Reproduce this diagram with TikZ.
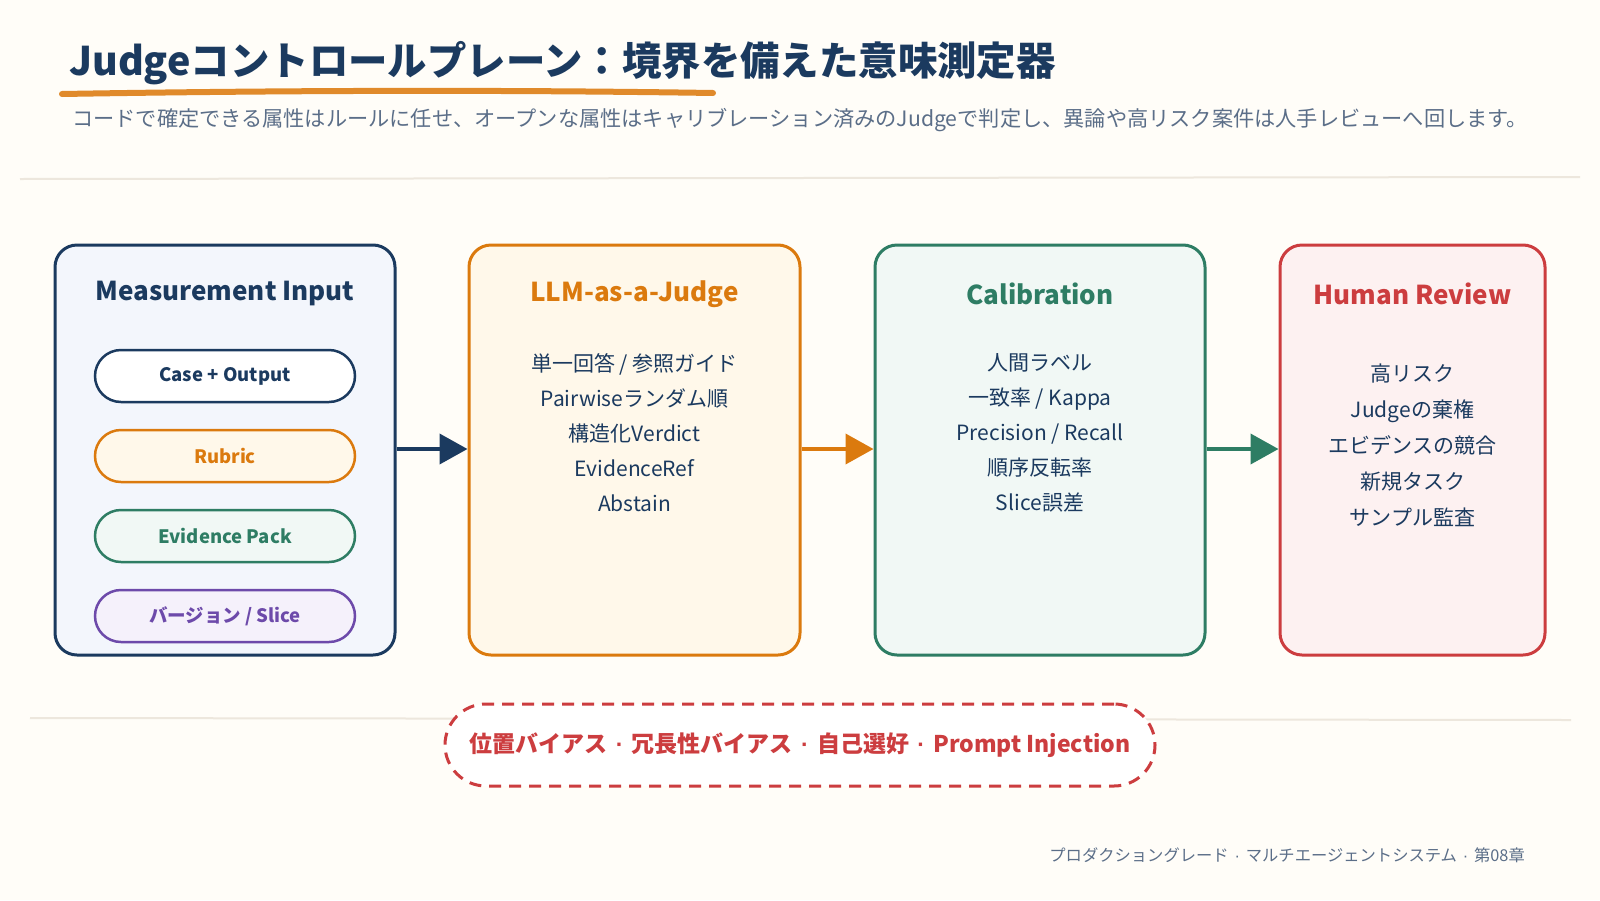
\documentclass[tikz,border=0pt]{standalone}
\usepackage{fontspec}
\setmainfont{Noto Sans CJK JP}
\newfontfamily\dotfont{Liberation Sans}
\usetikzlibrary{arrows.meta, positioning, calc}

\definecolor{bgcream}{HTML}{FFFDF8}
\definecolor{rulegray}{HTML}{EDE7DD}
\definecolor{navy}{HTML}{1B3A5F}
\definecolor{subgray}{HTML}{5B6E88}
\definecolor{judgeorange}{HTML}{DB7A0E}
\definecolor{underorange}{HTML}{E08A2B}
\definecolor{calgreen}{HTML}{2E7D64}
\definecolor{revred}{HTML}{CC3D3F}
\definecolor{verpurple}{HTML}{6D4AAA}
\definecolor{navyfill}{HTML}{F3F6FC}
\definecolor{orangefill}{HTML}{FFF8EA}
\definecolor{greenfill}{HTML}{F1F8F5}
\definecolor{redfill}{HTML}{FDF1F1}
\definecolor{purplefill}{HTML}{F5F1FB}

\newcommand{\sepdot}{\hspace{0.36em}{\dotfont ·}\hspace{0.36em}}

\begin{document}
\begin{tikzpicture}[
    x=1pt, y=-1pt,
    panel/.style={rounded corners=22pt, line width=3pt, minimum width=#1, minimum height=410pt, inner sep=0pt},
    ptitle/.style={font=\bfseries\fontsize{26}{30}\selectfont},
    pill/.style={rounded corners=26pt, line width=2.5pt, minimum width=260pt, minimum height=52pt,
        font=\bfseries\fontsize{18.5}{22}\selectfont},
    items/.style={align=center, text=navy, font=\fontsize{21}{#1}\selectfont},
    flow/.style={line width=4pt, -{Triangle[length=28pt, width=30pt]}}
]
    % Canvas
    \fill[bgcream] (0,0) rectangle (1600,900);
    \useasboundingbox (0,0) rectangle (1600,900);

    % Heading
    \node[anchor=west, text=navy, font=\bfseries\fontsize{39.4}{46}\selectfont, inner sep=0pt] (title) at (69,63)
        {Judgeコントロールプレーン：境界を備えた意味測定器};
    \draw[underorange, line width=6pt, line cap=round] (62,94) .. controls (300,90) and (520,90) .. (713,93);
    \node[anchor=west, text=subgray, font=\fontsize{21.2}{25}\selectfont, inner sep=0pt] (subtitle) at (72,120)
        {コードで確定できる属性はルールに任せ、オープンな属性はキャリブレーション済みのJudgeで判定し、異論や高リスク案件は人手レビューへ回します。};
    \draw[rulegray, line width=2pt] (20,179) -- (1580,177);
    \draw[rulegray, line width=2pt] (30,718) -- (1571,720);

    % Panels
    \node[panel=340pt, draw=navy, fill=navyfill] (input) at (225,450) {};
    \node[panel=331pt, draw=judgeorange, fill=orangefill] (judge) at (634.5,450) {};
    \node[panel=330pt, draw=calgreen, fill=greenfill] (calib) at (1040,450) {};
    \node[panel=265pt, draw=revred, fill=redfill] (review) at (1412.5,450) {};

    % Panel titles
    \node[ptitle, text=navy] (inputT) at (225,294) {Measurement Input};
    \node[ptitle, text=judgeorange] (judgeT) at (634.5,294) {LLM-as-a-Judge};
    \node[ptitle, text=calgreen] (calibT) at (1040,294) {Calibration};
    \node[ptitle, text=revred] (reviewT) at (1412.5,294) {Human Review};

    % Inputs
    \node[pill, draw=navy, fill=white, text=navy] (case) at (225,376) {Case + Output};
    \node[pill, draw=judgeorange, fill=orangefill, text=judgeorange] (rubric) at (225,456) {Rubric};
    \node[pill, draw=calgreen, fill=greenfill, text=calgreen] (evidence) at (225,536) {Evidence Pack};
    \node[pill, draw=verpurple, fill=purplefill, text=verpurple] (version) at (225,616) {バージョン / Slice};

    % Panel contents
    \node[items=35pt] (judgeL) at (634.5,433)
        {単一回答 / 参照ガイド\\Pairwiseランダム順\\構造化Verdict\\EvidenceRef\\Abstain};
    \node[items=35pt] (calibL) at (1040,433)
        {人間ラベル\\一致率 / Kappa\\Precision / Recall\\順序反転率\\Slice誤差};
    \node[items=36pt] (reviewL) at (1412.5,445)
        {高リスク\\Judgeの棄権\\エビデンスの競合\\新規タスク\\サンプル監査};

    % Flow
    \draw[flow, navy] (input.east |- 0,449) -- (judge.west |- 0,449);
    \draw[flow, judgeorange] (judge.east |- 0,449) -- (calib.west |- 0,449);
    \draw[flow, calgreen] (calib.east |- 0,449) -- (review.west |- 0,449);

    % Bias banner
    \node[draw=revred, fill=white, line width=3pt, dash pattern=on 12pt off 8pt, rounded corners=41pt,
        minimum width=710pt, minimum height=82pt, text=revred, font=\bfseries\fontsize{23}{27}\selectfont] (bias) at (800,745)
        {位置バイアス\sepdot 冗長性バイアス\sepdot 自己選好\sepdot Prompt Injection};

    % Footer
    \node[anchor=east, text=subgray, font=\fontsize{16.3}{19}\selectfont, inner sep=0pt] (footer) at (1525,855)
        {プロダクショングレード\sepdot マルチエージェントシステム\sepdot 第08章};
\end{tikzpicture}
\end{document}
